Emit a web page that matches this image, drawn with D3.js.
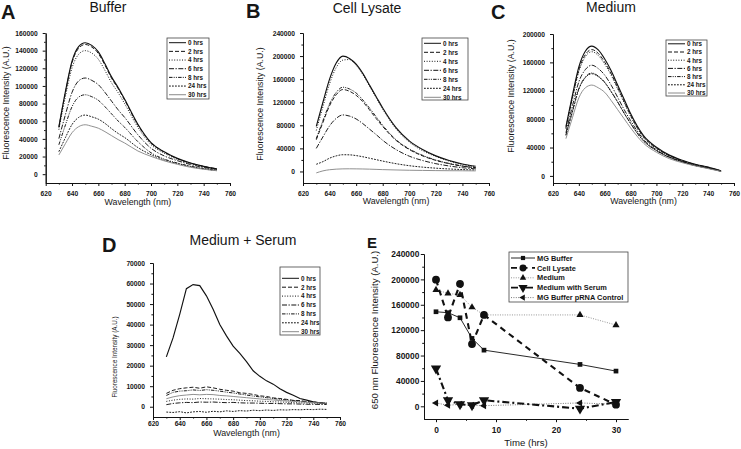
<!DOCTYPE html>
<html><head><meta charset="utf-8">
<script src="https://cdn.jsdelivr.net/npm/d3@7"></script>
<style>
body{margin:0;background:#fff}
svg{display:block}
text{font-family:"Liberation Sans",Arial,sans-serif;fill:#161616}
</style>
</head><body><svg id="c" width="741" height="449"></svg>
<script>
// ---------------- DATA ----------------
const hourLabels = ["0 hrs","2 hrs","4 hrs","6 hrs","8 hrs","24 hrs","30 hrs"];
const wavelengths = [630,635,640,645,650,655,660,665,670,675,680,690,700,710,720,730,740,750];
const wavelengthsD = [630,635,640,645,650,655,660,665,670,675,680,685,690,695,700,705,710,715,720,725,730,735,740,745,750];
const wavelengthTicks = [620,640,660,680,700,720,740,760];
const bufferTicks = [0,20000,40000,60000,80000,100000,120000,140000,160000];
const lysateTicks = [0,40000,80000,120000,160000,200000,240000];
const mediumTicks = [0,40000,80000,120000,160000,200000];
const serumTicks = [0,10000,20000,30000,40000,50000,60000,70000];
const timeTicks = [0,10,20,30];
const timeYTicks = [0,40000,80000,120000,160000,200000,240000];

const bufferSpectra = [
 [53600,93900,128100,144500,149000,146000,138600,125200,110300,98300,84900,56600,35800,25300,17900,12700,8900,6000],
 [52900,92600,126400,142600,147000,144100,136700,123500,108800,97000,83800,55900,35300,25000,17600,12500,8800,5900],
 [50400,88200,120400,135800,140000,137200,130200,117600,103600,92400,79800,53200,33600,23800,16800,11900,8400,5600],
 [40300,67600,92700,105700,109000,106300,101400,92700,82800,73000,64300,44700,29400,20700,15300,10900,7600,5500],
 [33300,55800,76500,87300,90000,87800,83700,76500,68400,60300,53100,36900,24300,17100,12600,9000,6300,4500],
 [25500,41500,56300,64300,67000,65000,62300,57600,51600,46200,41500,30200,22100,16100,12100,8700,6000,4000],
 [21800,34700,47000,53800,56000,54300,52100,48200,43700,39200,35300,26300,20200,15100,11200,7800,5600,3900]
];
const lysateSpectra = [
 [78000,120000,160000,188000,200000,196000,186000,170000,150000,130000,110000,76000,53000,38000,27000,19000,13000,9000],
 [55000,85000,114000,133000,142000,139000,132000,121000,107000,92000,78000,54000,38000,27000,19200,13500,9200,6400],
 [71000,112000,152000,180000,193000,194000,184000,168000,148000,128000,108000,74000,51000,36000,26000,18000,12000,8500],
 [40000,60000,79000,92000,98000,96000,91000,83000,73500,64000,54000,38000,26500,19000,13500,9500,6500,4500],
 [57000,88000,117000,137000,146000,143000,136000,124000,110000,95000,80000,55000,39000,28000,19700,13900,9500,6600],
 [12500,17000,23000,27000,29000,28800,27500,25500,23000,20500,18000,13500,10000,7500,5700,4300,3300,2500],
 [-2500,1000,3000,4000,4500,4600,4500,4300,4000,3600,3200,2600,2100,1800,1500,1300,1200,1000]
];
const mediumSpectra = [
 [69500,113500,153700,175700,183000,177500,164700,148200,128100,108000,87800,56700,40300,29300,22000,16500,12300,7200],
 [67600,110400,149500,170900,178000,172700,160200,144200,124600,105000,85400,55200,39200,28500,21400,16000,12000,7000],
 [66500,108500,147000,168000,175000,169800,157500,141800,122500,103300,84000,54300,38500,28000,21000,15800,11700,7000],
 [60800,98300,132600,149800,156000,151300,142000,127900,110800,93600,78000,51500,36700,26500,20300,14800,10900,6700],
 [58000,91400,123300,139200,145000,140700,132000,118900,104400,88500,74000,49300,35500,26100,19600,14500,10900,6500],
 [57000,90000,122000,138500,144000,140000,131500,118500,104000,88500,74000,49500,35800,26300,19800,14600,11000,6600],
 [52500,81900,110100,124200,128000,124200,117800,106200,93400,80600,67800,46100,33300,24300,18600,14100,10200,6400]
];
const serumSpectra = [
 [24300,33500,45000,57500,59500,59000,54000,47500,40000,34500,29500,26000,22000,17500,14800,12600,11000,8800,7000,5600,4000,3200,2400,1800,1500],
 [6500,8000,8800,9200,9500,9000,9700,9200,8500,8000,7600,6800,6500,6000,5300,5000,4300,4000,3600,3100,3000,2500,2300,2000,1800],
 [2600,3200,3600,3800,3700,4000,3900,3800,3700,3500,3400,3200,3000,2900,2700,2600,2400,2300,2200,2000,1900,1800,1700,1600,1500],
 [1000,1600,1900,2100,2000,2300,2200,2300,2100,2000,2100,1900,1800,1800,1700,1600,1600,1500,1400,1400,1300,1200,1200,1100,1100],
 [5500,7000,7600,7800,8200,7900,8300,8000,7600,7100,6700,6200,5700,5200,4800,4400,4000,3600,3300,3000,2700,2400,2200,2000,1800],
 [-2600,-2800,-2400,-3000,-2500,-2300,-2700,-2200,-2500,-2000,-2300,-1900,-2100,-1700,-1900,-1600,-1800,-1500,-1600,-1400,-1500,-1300,-1400,-1200,-1300],
 [3900,4800,5400,5700,6000,5800,6000,5900,5500,5300,5000,4700,4400,4100,3800,3500,3300,3000,2800,2600,2400,2200,2000,1800,1700]
];

const times = [0,2,4,6,8,24,30];
const seriesNames = ["MG Buffer","Cell Lysate","Medium","Medium with Serum","MG Buffer pRNA Control"];
const mgBuffer = [149000,147500,139500,107000,88500,66000,55500];
const cellLysate = [199500,140000,193000,98000,144000,29000,2600];
const medium = [183500,178000,175500,156000,144000,144000,128000];
const mediumSerum = [59500,9500,3200,1600,9500,-3700,6900];
const prnaControl = [5300,1600,3200,1500,1000,5300,3200];

// ---------------- DRAWING ----------------
const svg = d3.select("#c");
const dashes = [null,"4,2","1,1.6","5,1.5,1.3,1.5","3.5,1.2,1,1.2,1,1.2","1.8,1.2",null];
const strokes = ["#111","#111","#111","#111","#111","#111","#8a8a8a"];

function txt(g,x,y,s,size,weight,anchor,rot){
  const t = g.append("text").text(s).attr("font-size",size).attr("font-weight",weight||"normal")
    .attr("text-anchor",anchor||"middle");
  if(rot) t.attr("transform",`translate(${x},${y}) rotate(${rot})`);
  else t.attr("x",x).attr("y",y);
  return t;
}
function styleAxis(sel,fs){
  sel.selectAll("path,line").attr("stroke","#111").attr("stroke-width",1);
  sel.selectAll("text").attr("font-size",fs).attr("font-weight","bold").attr("fill","#161616")
     .style("font-family","'Liberation Sans',Arial,sans-serif");
}

function spectrumPanel(o){
  const g = svg.append("g");
  const x = d3.scaleLinear().domain([620,760]).range([o.x0,o.x1]);
  const y = d3.scaleLinear().domain(o.yDomain).range([o.yB,o.yT]);
  const xMinor = d3.range(630,760,20);
  const step = o.yTicks[1]-o.yTicks[0];
  const yMinor = d3.range(o.yTicks[0]+step/2, o.yDomain[1], step);
  g.append("g").attr("transform",`translate(0,${o.yB})`)
   .call(d3.axisBottom(x).tickValues(xMinor).tickSize(1.6).tickFormat("").tickSizeOuter(0))
   .call(s=>styleAxis(s,o.fs));
  g.append("g").attr("transform",`translate(${o.x0},0)`)
   .call(d3.axisLeft(y).tickValues(yMinor).tickSize(1.6).tickFormat("").tickSizeOuter(0))
   .call(s=>styleAxis(s,o.fs));
  g.append("g").attr("transform",`translate(0,${o.yB})`)
   .call(d3.axisBottom(x).tickValues(wavelengthTicks).tickSize(3).tickPadding(o.xPad).tickSizeOuter(0).tickFormat(d3.format("d")))
   .call(s=>styleAxis(s,o.fs));
  g.append("g").attr("transform",`translate(${o.x0},0)`)
   .call(d3.axisLeft(y).tickValues(o.yTicks).tickSize(3).tickPadding(5).tickSizeOuter(0).tickFormat(d3.format("d")))
   .call(s=>styleAxis(s,o.fs));
  const line = d3.line().x((d,i)=>x(o.wl[i])).y(d=>y(d)).curve(o.curve||d3.curveMonotoneX);
  o.series.forEach((s,i)=>{
    g.append("path").attr("d",line(s)).attr("fill","none").attr("stroke",strokes[i])
     .attr("stroke-width",i===0?1.15:0.95).attr("stroke-dasharray",dashes[i]);
  });
  const L = o.legend;
  g.append("rect").attr("x",L.x).attr("y",L.y).attr("width",L.w).attr("height",L.h)
   .attr("fill","#fff").attr("stroke","#444").attr("stroke-width",0.8);
  hourLabels.forEach((h,i)=>{
    const yy = L.first + i*L.step;
    g.append("line").attr("x1",L.x+2).attr("x2",L.x+19).attr("y1",yy).attr("y2",yy)
     .attr("stroke",strokes[i]).attr("stroke-width",1).attr("stroke-dasharray",dashes[i]);
    txt(g,L.x+21,yy+2.3,h,L.fs,"bold","start");
  });
  txt(g,o.letterX,o.letterY,o.letter,o.letterSize||20,"bold","start");
  txt(g,o.titleX,o.titleY,o.title,14,"normal","middle");
  txt(g,(o.x0+o.x1)/2,o.xlabY,"Wavelength (nm)",8.8,"normal","middle");
  txt(g,o.ylabX,o.ylabY,"Fluorescence Intensity (A.U.)",o.ylabSize,"normal","middle",-90);
}

spectrumPanel({x0:45.7,x1:230,yT:33,yB:183,yDomain:[-10000,160000],yTicks:bufferTicks,fs:6.7,xPad:5.5,
  wl:wavelengths,series:bufferSpectra,
  legend:{x:167,y:38,w:42,h:61,first:42.7,step:8.67,fs:6.3},
  letter:"A",letterX:1,letterY:19,title:"Buffer",titleX:108,titleY:12,
  xlabY:205,ylabX:8.8,ylabY:103,ylabSize:8.8});
spectrumPanel({x0:303,x1:489,yT:33,yB:183,yDomain:[-20000,240000],yTicks:lysateTicks,fs:6.7,xPad:5.5,
  wl:wavelengths,series:lysateSpectra,
  legend:{x:422,y:38,w:46,h:62,first:43.3,step:9,fs:6.3},
  letter:"B",letterX:246,letterY:18,title:"Cell Lysate",titleX:367,titleY:12.5,
  xlabY:204,ylabX:263,ylabY:104,ylabSize:8.8});
spectrumPanel({x0:553,x1:734,yT:34,yB:183,yDomain:[-10000,200000],yTicks:mediumTicks,fs:6.7,xPad:5.5,
  wl:wavelengths,series:mediumSpectra,
  legend:{x:666,y:40,w:41,h:56,first:43.8,step:8.2,fs:6.3},
  letter:"C",letterX:491,letterY:19,title:"Medium",titleX:611,titleY:12,
  xlabY:204,ylabX:514,ylabY:96,ylabSize:8.8});
spectrumPanel({x0:153,x1:340,yT:263,yB:417,yDomain:[-5000,70000],yTicks:serumTicks,fs:6.7,xPad:1.5,
  wl:wavelengthsD,series:serumSpectra,curve:d3.curveLinear,
  legend:{x:280,y:267,w:40,h:68,first:278.3,step:8.9,fs:6.3},
  letter:"D",letterX:102,letterY:252,letterSize:20,title:"Medium + Serum",titleX:243,titleY:245,
  xlabY:436,ylabX:117,ylabY:357,ylabSize:6.3});

// ---------- Panel E ----------
(function(){
  const g = svg.append("g");
  const x = d3.scaleLinear().domain([-2,32]).range([424,628]);
  const y = d3.scaleLinear().domain([-20000,240000]).range([419,254]);
  const fs = 8.4;
  g.append("g").attr("transform","translate(0,419)")
   .call(d3.axisBottom(x).tickValues([5,15,25]).tickSize(1.8).tickFormat("").tickSizeOuter(0)).call(s=>styleAxis(s,fs));
  g.append("g").attr("transform","translate(424,0)")
   .call(d3.axisLeft(y).tickValues(d3.range(20000,240000,40000)).tickSize(1.8).tickFormat("").tickSizeOuter(0)).call(s=>styleAxis(s,fs));
  g.append("g").attr("transform","translate(0,419)")
   .call(d3.axisBottom(x).tickValues(timeTicks).tickSize(3.2).tickPadding(4.5).tickSizeOuter(0)).call(s=>styleAxis(s,fs));
  g.append("g").attr("transform","translate(424,0)")
   .call(d3.axisLeft(y).tickValues(timeYTicks).tickSize(3.2).tickPadding(1.5).tickSizeOuter(0).tickFormat(d3.format("d"))).call(s=>styleAxis(s,fs));

  const sets = [mgBuffer,cellLysate,medium,mediumSerum,prnaControl];
  const lineStyle = [
    {stroke:"#111",w:0.9,dash:null},
    {stroke:"#111",w:2.1,dash:"6,4.5"},
    {stroke:"#8a8a8a",w:0.9,dash:"1,1.4"},
    {stroke:"#111",w:2.1,dash:"7,3,2,3"},
    {stroke:"#6a6a6a",w:0.9,dash:"1,1.4"}
  ];
  const sym = [
    {type:d3.symbolSquare,size:22,rot:0},
    {type:d3.symbolCircle,size:48,rot:0},
    {type:d3.symbolTriangle,size:22,rot:0},
    {type:d3.symbolTriangle,size:46,rot:180},
    {type:d3.symbolTriangle,size:22,rot:-90}
  ];
  const line = d3.line().x((d,i)=>x(times[i])).y(d=>y(d));
  [2,4,0,3,1].forEach(k=>{
    const st = lineStyle[k];
    g.append("path").attr("d",line(sets[k])).attr("fill","none").attr("stroke",st.stroke)
     .attr("stroke-width",st.w).attr("stroke-dasharray",st.dash);
  });
  [2,4,0,3,1].forEach(k=>{
    const sy = sym[k];
    const p = d3.symbol().type(sy.type).size(sy.size)();
    sets[k].forEach((v,i)=>{
      g.append("path").attr("d",p).attr("fill","#111")
       .attr("transform",`translate(${x(times[i])},${y(v)}) rotate(${sy.rot})`);
    });
  });
  g.append("rect").attr("x",509).attr("y",252).attr("width",119).attr("height",50)
   .attr("fill","#fff").attr("stroke","#444").attr("stroke-width",0.8);
  seriesNames.forEach((n,k)=>{
    const yy = 258 + k*9.9;
    const st = lineStyle[k];
    g.append("line").attr("x1",511).attr("x2",535).attr("y1",yy).attr("y2",yy)
     .attr("stroke",st.stroke).attr("stroke-width",Math.min(st.w,1.8)).attr("stroke-dasharray",st.dash);
    const sy = sym[k];
    g.append("path").attr("d",d3.symbol().type(sy.type).size(sy.size*0.8)()).attr("fill","#111")
     .attr("transform",`translate(523,${yy}) rotate(${sy.rot})`);
    txt(g,537,yy+2.6,n,7.4,"bold","start");
  });
  txt(g,367,248,"E",15,"bold","start");
  txt(g,526,446,"Time (hrs)",9.6,"normal","middle");
  txt(g,378,330,"650 nm Fluorescence Intensity (A.U.)",9.6,"normal","middle",-90);
})();
</script></body></html>
